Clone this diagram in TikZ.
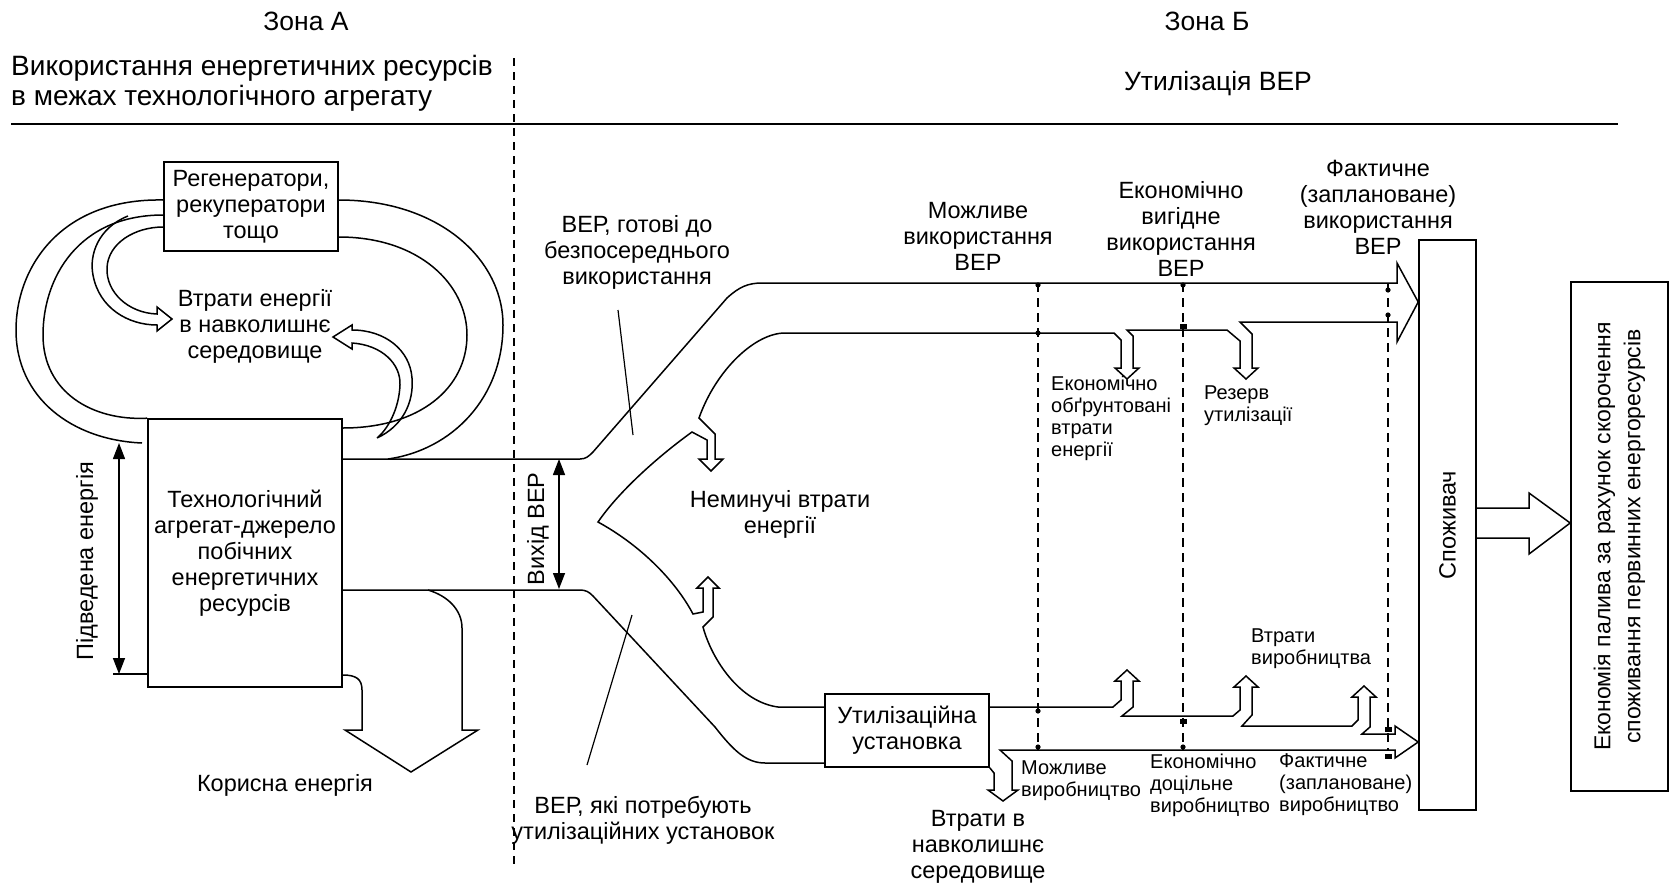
\documentclass[tikz,border=0pt]{standalone}
\usepackage{fontspec}
\setmainfont{Liberation Sans}
\usetikzlibrary{arrows.meta, positioning, calc}

\begin{document}
\begin{tikzpicture}[
    x=1pt, y=-1pt,
    box/.style={rectangle, draw, line width=1.6pt, inner sep=0pt, align=center},
    hdr/.style={font=\fontsize{26.5}{30}\selectfont, inner sep=0pt, align=center},
    lbl/.style={font=\fontsize{23.5}{26}\selectfont, inner sep=0pt, align=center},
    note/.style={font=\fontsize{20}{22}\selectfont, inner sep=0pt, align=left, anchor=west},
    flow/.style={line width=1.5pt, line join=miter},
    dim/.style={line width=1.4pt, dash pattern=on 9pt off 6pt},
    span/.style={{Triangle[length=16pt, width=12pt]}-{Triangle[length=16pt, width=12pt]}, line width=1.4pt},
    leader/.style={line width=1.2pt}
  ]
  \useasboundingbox (0,0) rectangle (1671,889);

  % headers
  \node[hdr] (zoneA) at (306,21) {Зона А};
  \node[hdr] (zoneB) at (1207,21) {Зона Б};
  \node[hdr, font=\fontsize{28}{30}\selectfont, align=left, anchor=west] (useA) at (11,83) {Використання енергетичних ресурсів\\в межах технологічного агрегату};
  \node[hdr] (useB) at (1218,84) {Утилізація ВЕР};
  \draw[line width=1.4pt] (11,124) -- (1618,124);
  \draw[line width=1.2pt, dash pattern=on 8pt off 6pt] (514,58) -- (514,869);

  % boxes
  \node[box, lbl, minimum width=174pt, minimum height=89pt] (regen) at (251,206.5) {Регенератори,\\рекуператори\\тощо};
  \node[box, lbl, minimum width=194pt, minimum height=268pt] (agg) at (245,553) {Технологічний\\агрегат-джерело\\побічних\\енергетичних\\ресурсів};
  \node[box, lbl, minimum width=164pt, minimum height=73pt] (util) at (907,730.5) {Утилізаційна\\установка};
  \node[box, minimum width=57pt, minimum height=570pt] (cons) at (1447.5,525) {};
  \node[lbl, rotate=90] (consT) at (cons.center) {Споживач};
  \node[box, minimum width=97pt, minimum height=509pt] (econ) at (1619.5,536.5) {};
  \node[lbl, rotate=90, font=\fontsize{23}{30}\selectfont] (econT) at (econ.center) {Економія палива за рахунок скорочення\\споживання первинних енергоресурсів};

  % zone A flows
  \draw[flow] (regen.west |- 0,200) .. controls (60,198) and (16,268) .. (16,330) .. controls (16,398) and (72,440) .. (142,443);
  \draw[flow] (regen.west |- 0,215) .. controls (78,215) and (43,278) .. (43,335) .. controls (43,392) and (92,421) .. (agg.north west);
  \draw[flow] (128,216) .. controls (98,228) and (89,255) .. (93,275) .. controls (99,308) and (128,325) .. (157,325) -- (157,331) -- (172,319) -- (157,307) -- (157,314) .. controls (128,313) and (106,292) .. (107,268) .. controls (108,243) and (135,227) .. (regen.west |- 0,227);
  \draw[flow] (regen.east |- 0,200) .. controls (440,200) and (503,260) .. (503,325) .. controls (503,398) and (452,450) .. (388,459);
  \draw[flow] (regen.east |- 0,237) .. controls (420,237) and (467,285) .. (467,335) .. controls (467,388) and (420,428) .. (agg.east |- 0,428);
  \draw[flow] (377,438) .. controls (403,426) and (414,402) .. (412,378) .. controls (410,350) and (385,330) .. (352,330) -- (352,325) -- (333,337) -- (352,349) -- (352,343) .. controls (382,345) and (401,364) .. (400,385) .. controls (399,410) and (387,430) .. (377,438);
  \draw[flow] (agg.east |- 0,675) .. controls (356,675) and (362,679) .. (362,690) -- (362,730) -- (345,730) -- (411,772) -- (478,730) -- (462,730) -- (462,628) .. controls (462,610) and (448,596) .. (428,590);
  \draw[span] (119,443) -- (119,674);
  \draw[line width=1.4pt] (113,674) -- (agg.west |- 0,674);

  \node[lbl] (lossA) at (255,326) {Втрати енергії\\в навколишнє\\середовище};
  \node[lbl] (useful) at (285,785) {Корисна енергія};
  \node[lbl, rotate=90] (supplied) at (87,561) {Підведена енергія};

  % zone B flows
  \draw[flow] (agg.east |- 0,459) -- (580,459) .. controls (586,459) and (589,456) .. (593,452) -- (727,298) .. controls (739,287) and (748,283) .. (762,283) -- (1397,283) -- (1397,263) -- (cons.west |- 0,302) -- (1397,342) -- (1397,322) -- (1240,322) -- (1252,334) -- (1252,368) -- (1258,368) -- (1246,379) -- (1234,368) -- (1240,368) -- (1240,341) -- (1227,330) -- (1127,330) -- (1133,336) -- (1133,368) -- (1139,368) -- (1127,379) -- (1115,368) -- (1121,368) -- (1121,340) -- (1114,333) -- (785,333) .. controls (755,333) and (716,370) .. (699,418) -- (715,434) -- (715,459) -- (723,459) -- (711,471) -- (699,459) -- (707,459) -- (707,440) -- (692,432) .. controls (660,455) and (620,490) .. (598,522) .. controls (640,545) and (675,580) .. (693,614) -- (703,612) -- (703,588) -- (697,588) -- (708,577) -- (719,588) -- (713,588) -- (713,617) -- (703,627) .. controls (712,660) and (740,702) .. (778,707) -- (util.west |- 0,707);
  \draw[flow] (agg.east |- 0,590) -- (580,590) .. controls (586,590) and (589,592) .. (593,596) -- (715,727) .. controls (733,750) and (746,763) .. (765,763) -- (util.west |- 0,763);
  \draw[flow] (util.east |- 0,707) -- (1113,707) -- (1121,700) -- (1121,681) -- (1115,681) -- (1127,670) -- (1139,681) -- (1133,681) -- (1133,707) -- (1122,716) -- (1233,716) -- (1240,710) -- (1240,687) -- (1234,687) -- (1246,676) -- (1258,687) -- (1252,687) -- (1252,715) -- (1242,726) -- (1352,726) -- (1358,720) -- (1358,697) -- (1352,697) -- (1364,686) -- (1376,697) -- (1370,697) -- (1370,727) -- (1362,734) -- (1395,734) -- (1395,726) -- (cons.west |- 0,742) -- (1395,758) -- (1395,750) -- (1000,750) -- (1012,761) -- (1012,790) -- (1018,790) -- (1003,801) -- (988,790) -- (994,790) -- (994,773) -- (util.south east);
  \draw[flow] (cons.east |- 0,508) -- (1529,508) -- (1529,493) -- (econ.west |- 0,523) -- (1529,554) -- (1529,538) -- (cons.east |- 0,538);
  \draw[span] (559,459) -- (559,589);
  \draw[leader] (618,310) -- (633,435);
  \draw[leader] (632,615) -- (587,765);

  % dimension lines
  \foreach \x in {1038,1183,1388}
    \draw[dim] (\x,283) -- (\x,750);
  \foreach \x/\y in {1038/285, 1038/333, 1183/285, 1388/290, 1388/315, 1038/711, 1038/747, 1183/747}
    \fill (\x,\y) circle (2.6pt);
  \foreach \x/\y in {1183/326, 1183/721, 1388/729, 1388/756}
    \fill (\x-3.5,\y-2.5) rectangle (\x+3.5,\y+2.5);

  \node[lbl, rotate=90] (outlet) at (538,529) {Вихід ВЕР};
  \node[lbl] (ready) at (637,252) {ВЕР, готові до\\безпосереднього\\використання};
  \node[lbl] (needs) at (643,820) {ВЕР, які потребують\\утилізаційних установок};
  \node[lbl] (unavoid) at (780,514) {Неминучі втрати\\енергії};
  \node[lbl] (possUse) at (978,236) {Можливе\\використання\\ВЕР};
  \node[lbl] (econUse) at (1181,229) {Економічно\\вигідне\\використання\\ВЕР};
  \node[lbl] (factUse) at (1378,207) {Фактичне\\(заплановане)\\використання\\ВЕР};
  \node[note] (justLoss) at (1051,418) {Економічно\\обґрунтовані\\втрати\\енергії};
  \node[note] (reserve) at (1204,406) {Резерв\\утилізації};
  \node[note] (prodLoss) at (1251,649) {Втрати\\виробництва};
  \node[note] (possProd) at (1021,781) {Можливе\\виробництво};
  \node[note] (econProd) at (1150,785) {Економічно\\доцільне\\виробництво};
  \node[note] (factProd) at (1279,785) {Фактичне\\(заплановане)\\виробництво};
  \node[lbl] (lossB) at (978,847) {Втрати в\\навколишнє\\середовище};
\end{tikzpicture}
\end{document}
